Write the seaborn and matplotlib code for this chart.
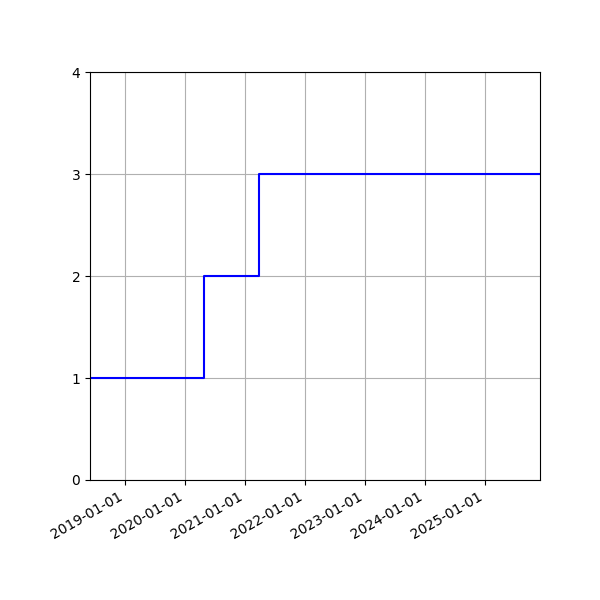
import pandas as pd
import matplotlib
matplotlib.use("Agg")
import matplotlib.pyplot as plt
import matplotlib.dates as mdates
import seaborn as sns

# step data (value holds until next date)
dates = ["2018-06-04", "2020-04-28", "2021-03-27", "2025-11-30"]
values = [1, 2, 3, 3]

df = pd.DataFrame({"date": pd.to_datetime(dates), "value": values})

fig, ax = plt.subplots(figsize=(6, 6), dpi=100)
fig.subplots_adjust(left=0.15, right=0.9, top=0.88, bottom=0.2)

sns.lineplot(data=df, x="date", y="value", drawstyle="steps-post",
             color="blue", linewidth=1.5, ax=ax)

ax.set_xlim(df["date"].min(), df["date"].max())
ax.set_ylim(0, 4)
ax.set_yticks([0, 1, 2, 3, 4])
ax.xaxis.set_major_locator(mdates.YearLocator())
ax.xaxis.set_major_formatter(mdates.DateFormatter("%Y-%m-%d"))
ax.set_xlabel("")
ax.set_ylabel("")
ax.grid(True)
for lbl in ax.get_xticklabels():
    lbl.set_rotation(30)
    lbl.set_ha("right")

fig.savefig("out.png", dpi=100)
